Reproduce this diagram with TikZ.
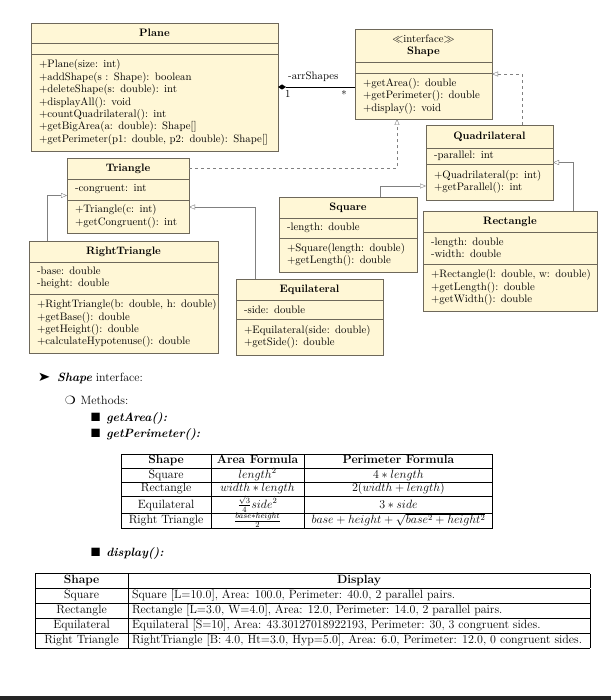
\documentclass[tikz,border=0pt]{standalone}
\usepackage{pifont}
\usepackage{array}
\usetikzlibrary{positioning, arrows.meta, fit}

\definecolor{umlfill}{RGB}{255,247,214}
\definecolor{umldraw}{RGB}{110,104,90}
\renewcommand{\arraystretch}{1.0}
\setlength{\tabcolsep}{4pt}
\newcommand{\tallrow}{\rule[-4.6pt]{0pt}{11.2pt}}

\begin{document}
\begin{tikzpicture}[
    x=1pt, y=-1pt,
    font=\fontsize{10.8}{12.4}\selectfont,
    classtitle/.style={rectangle, draw=umldraw, fill=umlfill, align=center, inner sep=0pt, outer sep=0pt, anchor=north west},
    classpart/.style={rectangle, draw=umldraw, fill=umlfill, align=left, inner xsep=8pt, inner ysep=2pt, outer sep=0pt},
    wholeclass/.style={inner sep=0pt, outer sep=0pt},
    inherit/.style={-{Triangle[open, length=6pt, width=5pt]}, draw=black!50},
    realize/.style={inherit, dashed},
    aggr/.style={-{Diamond[length=8pt, width=5pt]}, draw=black},
    itemtext/.style={anchor=west, inner sep=0pt, font=\fontsize{12}{14.5}\selectfont},
    tablebox/.style={anchor=north west, inner sep=0pt, font=\fontsize{12}{14.5}\selectfont}
]
\useasboundingbox (0,0) rectangle (611,700);

% Plane
\node[classtitle, minimum width=247, minimum height=20] (plane-title) at (31,23) {\textbf{Plane}};
\node[classpart, minimum width=247, minimum height=11, below=0pt of plane-title] (plane-attr) {};
\node[classpart, text width=231, minimum height=97, below=0pt of plane-attr] (plane-ops) {+Plane(size: int)\\+addShape(s : Shape): boolean\\+deleteShape(s: double): int\\+displayAll(): void\\+countQuadrilateral(): int\\+getBigArea(a: double): Shape[]\\\mbox{+getPerimeter(p1: double, p2: double): Shape[]}};
\node[wholeclass, fit=(plane-title)(plane-ops)] (plane) {};

% Shape interface
\node[classtitle, minimum width=137, minimum height=33] (shape-title) at (355,29) {$\ll$interface$\gg$\\\textbf{Shape}};
\node[classpart, minimum width=137, minimum height=11, below=0pt of shape-title] (shape-attr) {};
\node[classpart, text width=121, minimum height=46, below=0pt of shape-attr] (shape-ops) {+getArea(): double\\\mbox{+getPerimeter(): double}\\+display(): void};
\node[wholeclass, fit=(shape-title)(shape-ops)] (shape) {};

% Quadrilateral
\node[classtitle, minimum width=127, minimum height=23] (quad-title) at (426,125) {\textbf{Quadrilateral}};
\node[classpart, text width=111, minimum height=16, below=0pt of quad-title] (quad-attr) {-parallel: int};
\node[classpart, text width=111, minimum height=36, below=0pt of quad-attr] (quad-ops) {\mbox{+Quadrilateral(p: int)}\\+getParallel(): int};
\node[wholeclass, fit=(quad-title)(quad-ops)] (quad) {};

% Rectangle
\node[classtitle, minimum width=174, minimum height=21] (rect-title) at (423,211) {\textbf{Rectangle}};
\node[classpart, text width=158, minimum height=32, below=0pt of rect-title] (rect-attr) {-length: double\\-width: double};
\node[classpart, text width=158, minimum height=47, below=0pt of rect-attr] (rect-ops) {\mbox{+Rectangle(l: double, w: double)}\\+getLength(): double\\+getWidth(): double};
\node[wholeclass, fit=(rect-title)(rect-ops)] (rect) {};

% Square
\node[classtitle, minimum width=138, minimum height=21] (square-title) at (279,197) {\textbf{Square}};
\node[classpart, text width=122, minimum height=20, below=0pt of square-title] (square-attr) {-length: double};
\node[classpart, text width=122, minimum height=34, below=0pt of square-attr] (square-ops) {\mbox{+Square(length: double)}\\+getLength(): double};
\node[wholeclass, fit=(square-title)(square-ops)] (square) {};

% Equilateral
\node[classtitle, minimum width=147, minimum height=21] (equi-title) at (236,279) {\textbf{Equilateral}};
\node[classpart, text width=131, minimum height=19, below=0pt of equi-title] (equi-attr) {-side: double};
\node[classpart, text width=131, minimum height=36, below=0pt of equi-attr] (equi-ops) {\mbox{+Equilateral(side: double)}\\+getSide(): double};
\node[wholeclass, fit=(equi-title)(equi-ops)] (equi) {};

% Triangle
\node[classtitle, minimum width=122, minimum height=21] (tri-title) at (67,158) {\textbf{Triangle}};
\node[classpart, text width=106, minimum height=21, below=0pt of tri-title] (tri-attr) {-congruent: int};
\node[classpart, text width=106, minimum height=33, below=0pt of tri-attr] (tri-ops) {+Triangle(c: int)\\\mbox{+getCongruent(): int}};
\node[wholeclass, fit=(tri-title)(tri-ops)] (tri) {};

% RightTriangle
\node[classtitle, minimum width=189, minimum height=21] (rtri-title) at (29,241) {\textbf{RightTriangle}};
\node[classpart, text width=173, minimum height=32, below=0pt of rtri-title] (rtri-attr) {-base: double\\-height: double};
\node[classpart, text width=173, minimum height=59, below=0pt of rtri-attr] (rtri-ops) {\mbox{+RightTriangle(b: double, h: double)}\\+getBase(): double\\+getHeight(): double\\\mbox{+calculateHypotenuse(): double}};
\node[wholeclass, fit=(rtri-title)(rtri-ops)] (rtri) {};

% Relations
\coordinate (arr-end) at (plane.east -| shape.west);
\draw[aggr] (arr-end) -- (plane.east);
\node[anchor=south west, inner sep=0pt] (arr-role) at ([xshift=10pt, yshift=5pt]plane.east) {-arrShapes};
\node[anchor=north west, inner sep=0pt] (arr-one) at ([xshift=7pt, yshift=-3pt]plane.east) {1};
\node[anchor=north east, inner sep=0pt] (arr-many) at ([xshift=-8pt, yshift=-3pt]arr-end) {*};

\draw[realize] ([xshift=32.5pt]quad.north) |- (shape.east);
\draw[realize] (tri-title.east) -| ([xshift=-26.5pt]shape.south);

\draw[inherit] ([xshift=63pt]rect.north) |- (quad.east);
\draw[inherit] ([xshift=32pt]square.north) |- ([yshift=-23.5pt]quad.west);
\draw[inherit] ([xshift=-76.5pt]rtri.north) |- (tri.west);
\draw[inherit] ([xshift=-54.5pt]equi.north) |- ([yshift=-11.5pt]tri.east);

% Description
\node[itemtext] (shape-item) at (39,378) {\ding{228}\hspace{7pt}\textbf{\textit{Shape}} interface:};
\node[itemtext] (methods-item) at (65,400) {\ding{109}\hspace{5pt}Methods:};
\node[itemtext] (area-item) at (91,418) {\ding{110}\hspace{6pt}\textbf{\textit{getArea():}}};
\node[itemtext] (perim-item) at (91,434) {\ding{110}\hspace{6pt}\textbf{\textit{getPerimeter():}}};

\node[tablebox] (formula-table) at (121,454) {%
\renewcommand{\arraystretch}{0.9}%
\begin{tabular}{|>{\centering\arraybackslash}p{81pt}|>{\centering\arraybackslash}p{85pt}|>{\centering\arraybackslash}p{180pt}|}
\hline
\tallrow\textbf{Shape} & \textbf{Area Formula} & \textbf{Perimeter Formula}\\ \hline
Square & $length^2$ & $4*length$\\ \hline
Rectangle & $width*length$ & $2(width+length)$\\ \hline
\tallrow Equilateral & $\frac{\sqrt{3}}{4}side^2$ & $3*side$\\ \hline
\tallrow Right Triangle & $\frac{base*height}{2}$ & \mbox{$base+height+\sqrt{base^2+height^2}$}\\ \hline
\end{tabular}};

\node[itemtext] (display-item) at (91,553) {\ding{110}\hspace{6pt}\textbf{\textit{display():}}};

\node[tablebox] (display-table) at (35,573) {%
\begin{tabular}{|>{\centering\arraybackslash}p{84pt}|>{\raggedright\arraybackslash}p{454pt}|}
\hline
\textbf{Shape} & \multicolumn{1}{c|}{\textbf{Display}}\\ \hline
Square & Square [L=10.0], Area: 100.0, Perimeter: 40.0, 2 parallel pairs.\\ \hline
Rectangle & Rectangle [L=3.0, W=4.0], Area: 12.0, Perimeter: 14.0, 2 parallel pairs.\\ \hline
Equilateral & Equilateral [S=10], Area: 43.30127018922193, Perimeter: 30, 3 congruent sides.\\ \hline
Right Triangle & \mbox{RightTriangle [B: 4.0, Ht=3.0, Hyp=5.0], Area: 6.0, Perimeter: 12.0, 0 congruent sides.}\\ \hline
\end{tabular}};

\fill[black!85] (0,696) rectangle (611,700);

\end{tikzpicture}
\end{document}
